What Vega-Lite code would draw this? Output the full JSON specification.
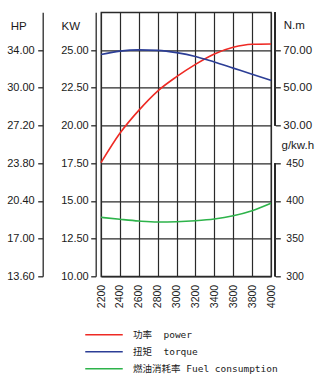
{
  "$schema": "https://vega.github.io/schema/vega-lite/v6.json",
  "width": 170,
  "height": 264,
  "autosize": "none",
  "padding": {"left": 101, "top": 12.3, "right": 54, "bottom": 108.7},
  "background": "white",
  "config": {
    "view": {"stroke": "#2a2a2a", "strokeWidth": 1.3},
    "axis": {
      "domainColor": "#2a2a2a", "domainWidth": 1.3,
      "tickColor": "#2a2a2a", "tickWidth": 1.3,
      "labelColor": "#1a1a1a", "titleColor": "#1a1a1a",
      "labelFont": "Liberation Sans", "titleFont": "Liberation Sans",
      "titleFontWeight": "normal",
      "gridColor": "#2a2a2a", "gridWidth": 1.2, "gridOpacity": 1
    },
    "legend": {
      "orient": "none", "legendX": -17, "legendY": 314,
      "symbolType": "stroke", "symbolSize": 1406, "symbolStrokeWidth": 1.6,
      "labelFont": "DejaVu Sans Mono, Noto Sans CJK SC", "labelFontSize": 9.5, "labelColor": "#1a1a1a",
      "labelOffset": 9, "padding": 0, "rowPadding": 0, "clipHeight": 17, "title": null
    }
  },
  "data": {"values": [
    {"rpm": 2200, "power": 17.53, "torque": 67.6, "fuel": 378.2},
    {"rpm": 2400, "power": 19.48, "torque": 69.4, "fuel": 375.6},
    {"rpm": 2600, "power": 21.0, "torque": 70.1, "fuel": 373.3},
    {"rpm": 2800, "power": 22.28, "torque": 69.8, "fuel": 372.0},
    {"rpm": 3000, "power": 23.23, "torque": 68.6, "fuel": 372.4},
    {"rpm": 3200, "power": 24.05, "torque": 66.6, "fuel": 373.7},
    {"rpm": 3400, "power": 24.74, "torque": 63.6, "fuel": 376.0},
    {"rpm": 3600, "power": 25.18, "torque": 60.4, "fuel": 380.3},
    {"rpm": 3800, "power": 25.38, "torque": 57.2, "fuel": 387.0},
    {"rpm": 4000, "power": 25.4, "torque": 53.9, "fuel": 396.8}
  ]},
  "encoding": {
    "x": {"field": "rpm", "type": "quantitative", "scale": {"domain": [2200, 4000], "nice": false, "zero": false},
      "axis": {"values": [2200, 2400, 2600, 2800, 3000, 3200, 3400, 3600, 3800, 4000], "labelAngle": 270,
        "tickSize": 0, "labelPadding": 8, "labelFontSize": 10.5, "domain": false, "grid": true, "title": null, "format": "d"}}
  },
  "layer": [
    {
      "mark": {"type": "point", "opacity": 0},
      "encoding": {
        "y": {"datum": 34, "type": "quantitative",
          "scale": {"domain": [13.6, 37.4], "nice": false, "zero": false},
          "axis": {"orient": "left", "offset": 58.3, "values": [13.6, 17, 20.4, 23.8, 27.2, 30.6, 34],
            "labelExpr": "abs(datum.value - 30.6) < 0.01 ? '30.00' : format(datum.value, '.2f')",
            "tickSize": 5, "labelPadding": 3.5, "labelFontSize": 11, "grid": false,
            "title": "HP", "titleAngle": 0, "titleX": -24.4, "titleY": 13.7, "titleAlign": "center", "titleBaseline": "middle", "titleFontSize": 11.5}}
      }
    },
    {
      "mark": {"type": "line", "strokeWidth": 1.6, "interpolate": "monotone"},
      "encoding": {
        "y": {"field": "power", "type": "quantitative",
          "scale": {"domain": [10, 27.5], "nice": false, "zero": false},
          "axis": {"orient": "left", "offset": 5.3, "values": [10, 12.5, 15, 17.5, 20, 22.5, 25], "format": ".2f",
            "tickSize": 5, "labelPadding": 2.5, "labelFontSize": 11, "grid": true,
            "title": "KW", "titleAngle": 0, "titleX": -25.4, "titleY": 13.7, "titleAlign": "center", "titleBaseline": "middle", "titleFontSize": 11.5}},
        "color": {"datum": "功率\u00a0\u00a0power", "type": "nominal",
          "scale": {"domain": ["功率\u00a0\u00a0power", "扭矩\u00a0\u00a0torque", "燃油消耗率\u00a0Fuel consumption"], "range": ["#ee2a24", "#2c3e96", "#2db34a"]}}
      }
    },
    {
      "layer": [
        {
          "mark": {"type": "line", "strokeWidth": 1.6, "interpolate": "monotone"},
          "encoding": {
            "y": {"field": "torque", "type": "quantitative",
              "scale": {"domain": [-50, 90], "nice": false, "zero": false},
              "axis": {"orient": "right", "offset": 4.3, "values": [30, 50, 70], "format": ".2f", "domain": false,
                "tickSize": 5, "labelPadding": 2.5, "labelFontSize": 11.5, "grid": false,
                "title": "N.m", "titleAngle": 0, "titleX": 18.5, "titleY": 12.7, "titleAlign": "center", "titleBaseline": "middle", "titleFontSize": 11.5}},
            "color": {"datum": "扭矩\u00a0\u00a0torque", "type": "nominal"}
          }
        },
        {
          "mark": {"type": "rule", "xOffset": 4.3, "color": "#2a2a2a", "strokeWidth": 1.3},
          "encoding": {
            "x": {"datum": 4000, "type": "quantitative"},
            "y": {"datum": 30, "type": "quantitative"},
            "y2": {"datum": 90}
          }
        }
      ]
    },
    {
      "layer": [
        {
          "mark": {"type": "line", "strokeWidth": 1.6, "interpolate": "monotone"},
          "encoding": {
            "y": {"field": "fuel", "type": "quantitative",
              "scale": {"domain": [300, 650], "nice": false, "zero": false},
              "axis": {"orient": "right", "offset": 4.3, "values": [300, 350, 400, 450], "format": "d", "domain": false,
                "tickSize": 5, "labelPadding": 5.5, "labelFontSize": 10.5, "grid": false,
                "title": "g/kw.h", "titleAngle": 0, "titleX": 22, "titleY": 132.7, "titleAlign": "center", "titleBaseline": "middle", "titleFontSize": 11.5}},
            "color": {"datum": "燃油消耗率\u00a0Fuel consumption", "type": "nominal"}
          }
        },
        {
          "mark": {"type": "rule", "xOffset": 4.3, "color": "#2a2a2a", "strokeWidth": 1.3},
          "encoding": {
            "x": {"datum": 4000, "type": "quantitative"},
            "y": {"datum": 300, "type": "quantitative"},
            "y2": {"datum": 450}
          }
        }
      ]
    }
  ],
  "resolve": {"scale": {"y": "independent"}, "axis": {"y": "independent"}}
}
